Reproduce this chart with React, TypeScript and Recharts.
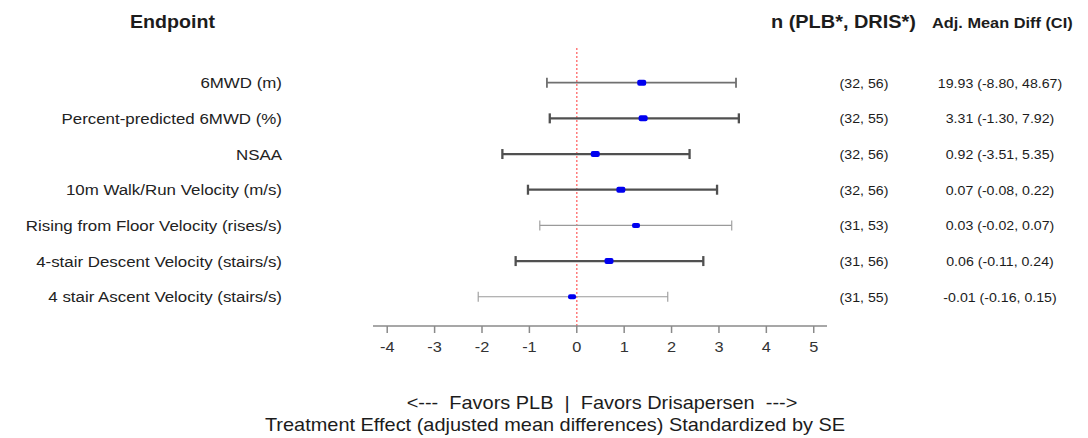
import React from "react";
import {
  ErrorBar,
  ReferenceLine,
  Scatter,
  ScatterChart,
  XAxis,
  YAxis,
} from "recharts";

const endpoints = [
  "6MWD (m)",
  "Percent-predicted 6MWD (%)",
  "NSAA",
  "10m Walk/Run Velocity (m/s)",
  "Rising from Floor Velocity (rises/s)",
  "4-stair Descent Velocity (stairs/s)",
  "4 stair Ascent Velocity (stairs/s)",
];
const nCounts = [
  "(32, 56)",
  "(32, 55)",
  "(32, 56)",
  "(32, 56)",
  "(31, 53)",
  "(31, 56)",
  "(31, 55)",
];
const adjMeanDiff = [
  "19.93 (-8.80, 48.67)",
  "3.31 (-1.30, 7.92)",
  "0.92 (-3.51, 5.35)",
  "0.07 (-0.08, 0.22)",
  "0.03 (-0.02, 0.07)",
  "0.06 (-0.11, 0.24)",
  "-0.01 (-0.16, 0.15)",
];
// standardized effect (mean diff / SE) with its interval
const effect = [1.37, 1.4, 0.39, 0.93, 1.25, 0.68, -0.1];
const lower = [-0.63, -0.57, -1.57, -1.03, -0.78, -1.29, -2.08];
const upper = [3.36, 3.42, 2.38, 2.96, 3.27, 2.67, 1.92];
const xTicks = [-4, -3, -2, -1, 0, 1, 2, 3, 4, 5];

// line weight per row, as drawn in the original figure
const lineGroups = [
  { rows: [1], stroke: "#707070", width: 1.8, mark: [9, 6] },
  { rows: [2, 3, 4, 6], stroke: "#505050", width: 2.3, mark: [9, 6] },
  { rows: [5, 7], stroke: "#9a9a9a", width: 1.1, mark: [8, 5] },
];

const FONT = '"Liberation Sans", Arial, sans-serif';
const SX = 1.09; // the source image is slightly stretched horizontally

const rows = endpoints.map((name, i) => ({
  row: i + 1,
  name,
  effect: effect[i],
  err: [effect[i] - lower[i], upper[i] - effect[i]],
}));

function Txt(props: {
  x: number;
  y: number;
  size: number;
  anchor?: "start" | "middle" | "end";
  bold?: boolean;
  fill?: string;
  children: React.ReactNode;
}) {
  return (
    <text
      transform={`translate(${props.x},${props.y}) scale(${SX},1)`}
      textAnchor={props.anchor ?? "start"}
      fontSize={props.size}
      fontWeight={props.bold ? 700 : 400}
      fill={props.fill ?? "#1c1c1c"}
      fontFamily={FONT}
      style={{ whiteSpace: "pre" }}
    >
      {props.children}
    </text>
  );
}

function RowTick(props: { y?: number; payload?: { value: number } }) {
  const i = (props.payload?.value ?? 1) - 1;
  const y = (props.y ?? 0) + 5;
  return (
    <g>
      <Txt x={282} y={y + 0.5} size={15.5} anchor="end" fill="#222">
        {endpoints[i]}
      </Txt>
      <Txt x={864} y={y} size={13} anchor="middle">
        {nCounts[i]}
      </Txt>
      <Txt x={1000} y={y} size={13} anchor="middle">
        {adjMeanDiff[i]}
      </Txt>
    </g>
  );
}

function XTick(props: { x?: number; y?: number; payload?: { value: number } }) {
  return (
    <Txt x={props.x ?? 0} y={(props.y ?? 0) + 17} size={15} anchor="middle" fill="#333">
      {String(props.payload?.value)}
    </Txt>
  );
}

function Marker(w: number, h: number) {
  return (p: { cx?: number; cy?: number }) => (
    <rect
      x={(p.cx ?? 0) - w / 2}
      y={(p.cy ?? 0) - h / 2}
      width={w}
      height={h}
      rx={2}
      fill="#0000f0"
    />
  );
}

export default function App() {
  return (
    <div
      style={{
        position: "absolute",
        left: 0,
        top: 0,
        width: 1088,
        height: 438,
        background: "#fff",
      }}
    >
      <ScatterChart
        width={1088}
        height={438}
        margin={{ top: 47, right: 261, bottom: 72, left: 0 }}
      >
        <XAxis
          type="number"
          dataKey="effect"
          domain={[-4.3, 5.28]}
          ticks={xTicks}
          allowDataOverflow
          height={40}
          tickSize={7}
          tick={<XTick />}
          axisLine={{ stroke: "#8a8a8a", strokeWidth: 1.5 }}
          tickLine={{ stroke: "#8a8a8a", strokeWidth: 1.5 }}
        />
        <YAxis
          type="number"
          dataKey="row"
          domain={[0, 7.82]}
          ticks={[1, 2, 3, 4, 5, 6, 7]}
          reversed
          allowDataOverflow
          width={373}
          axisLine={false}
          tickLine={false}
          tick={<RowTick />}
        />
        <ReferenceLine
          x={0}
          stroke="#ff7a7a"
          strokeWidth={1.5}
          strokeDasharray="2 2"
        />
        {lineGroups.map((g, gi) => (
          <Scatter
            key={gi}
            data={rows.filter((r) => g.rows.includes(r.row))}
            shape={Marker(g.mark[0], g.mark[1])}
            isAnimationActive={false}
          >
            <ErrorBar
              dataKey="err"
              direction="x"
              width={5}
              stroke={g.stroke}
              strokeWidth={g.width}
              isAnimationActive={false}
            />
          </Scatter>
        ))}
      </ScatterChart>
      <svg
        width={1088}
        height={438}
        style={{ position: "absolute", left: 0, top: 0, pointerEvents: "none" }}
      >
        <Txt x={130} y={28} size={18} bold>
          Endpoint
        </Txt>
        <Txt x={916} y={28} size={18.3} bold anchor="end">
          n (PLB*, DRIS*)
        </Txt>
        <Txt x={932} y={28} size={15} bold>
          Adj. Mean Diff (CI)
        </Txt>
        <Txt x={602} y={409} size={18.3} anchor="middle">
          {"<---  Favors PLB  |  Favors Drisapersen  --->"}
        </Txt>
        <Txt x={555} y={431} size={18.3} anchor="middle">
          Treatment Effect (adjusted mean differences) Standardized by SE
        </Txt>
      </svg>
    </div>
  );
}
